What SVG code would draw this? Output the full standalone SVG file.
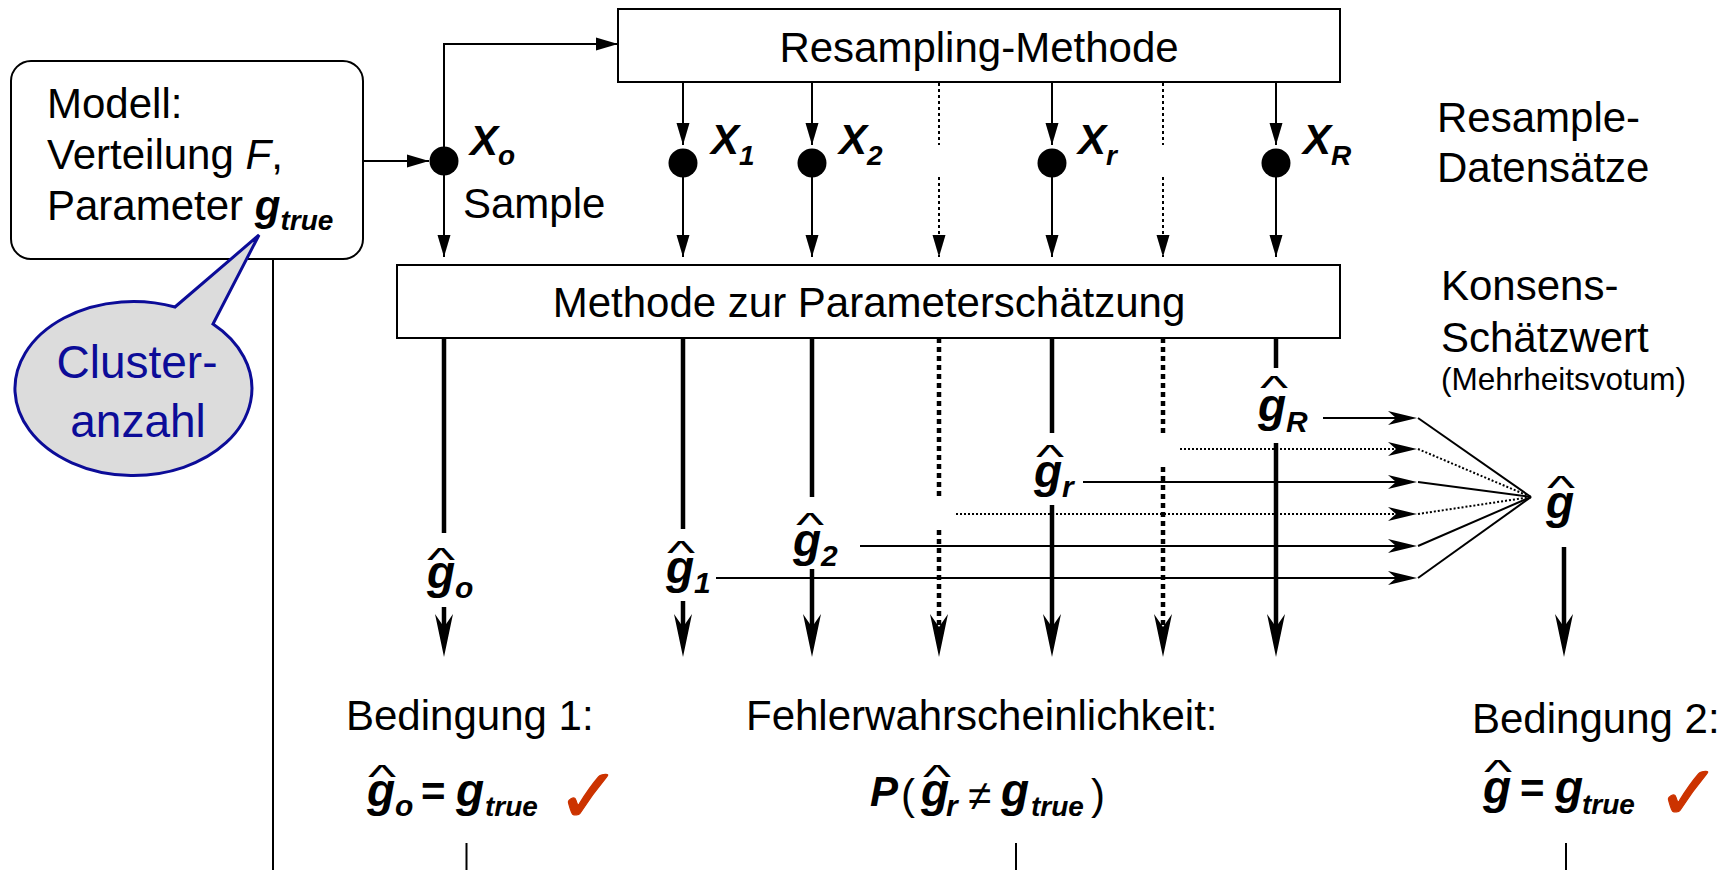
<svg xmlns="http://www.w3.org/2000/svg" width="1735" height="870" viewBox="0 0 1735 870">
<style>
.t{font-family:"Liberation Sans",Arial,sans-serif;font-size:42px;fill:#000}
.bi{font-weight:bold;font-style:italic}
.sub{font-size:28px}
.g{font-size:46px}
.s2{font-size:30px}
.sm{font-size:31.5px}
.hat{font-family:"Liberation Sans",Arial,sans-serif;font-size:40px;fill:#000}
.blue{fill:#0c0c98;font-size:46px}
.ln{stroke:#000;stroke-width:2;fill:none}
.thick{stroke-width:4.5}
.d1{stroke-dasharray:3 3}
.d2{stroke-dasharray:5 4}
.d3{stroke-dasharray:2 2}
.box{fill:#fff;stroke:#000;stroke-width:2}
.chk{font-family:"DejaVu Sans",sans-serif;font-size:76px;fill:#cc3300;stroke:#cc3300;stroke-width:1.2}
</style>
<defs>
<marker id="tri" markerUnits="userSpaceOnUse" markerWidth="24" markerHeight="14" refX="22" refY="6.5" orient="auto" overflow="visible"><path d="M0,0 L22,6.5 L0,13 z" fill="#000"/></marker>
<marker id="stv" markerUnits="userSpaceOnUse" markerWidth="44" markerHeight="18" refX="13" refY="9" orient="auto" overflow="visible"><path d="M0,0 L43,9 L0,18 L13,9 z" fill="#000"/></marker>
<marker id="sth" markerUnits="userSpaceOnUse" markerWidth="30" markerHeight="14" refX="8" refY="7" orient="auto" overflow="visible"><path d="M0,0 L29,7 L0,14 L8,7 z" fill="#000"/></marker>
</defs>
<rect width="1735" height="870" fill="#fff"/>

<g id="connectors">
<line class="ln" x1="273" y1="259" x2="273" y2="870"/>
<line class="ln" x1="363" y1="161" x2="429" y2="161" marker-end="url(#tri)"/>
<path class="ln" d="M444,161 V44 H618" marker-end="url(#tri)"/>
<path class="ln" d="M444,175 V257" marker-end="url(#tri)"/>
<path class="ln" d="M683,82 V145" marker-end="url(#tri)"/>
<path class="ln" d="M683,177 V257" marker-end="url(#tri)"/>
<path class="ln" d="M812,82 V145" marker-end="url(#tri)"/>
<path class="ln" d="M812,177 V257" marker-end="url(#tri)"/>
<path class="ln" d="M1052,82 V145" marker-end="url(#tri)"/>
<path class="ln" d="M1052,177 V257" marker-end="url(#tri)"/>
<path class="ln" d="M1276,82 V145" marker-end="url(#tri)"/>
<path class="ln" d="M1276,177 V257" marker-end="url(#tri)"/>
<path class="ln d1" d="M939,83 V145"/>
<path class="ln d1" d="M939,177 V257" marker-end="url(#tri)"/>
<path class="ln d1" d="M1163,83 V145"/>
<path class="ln d1" d="M1163,177 V257" marker-end="url(#tri)"/>

<path class="ln thick" d="M444,338 V533"/>
<path class="ln thick" d="M444,607 V627" marker-end="url(#stv)"/>
<path class="ln thick" d="M683,338 V529"/>
<path class="ln thick" d="M683,601 V627" marker-end="url(#stv)"/>
<path class="ln thick" d="M812,338 V497"/>
<path class="ln thick" d="M812,569 V627" marker-end="url(#stv)"/>
<path class="ln thick d2" d="M939,338 V497"/>
<path class="ln thick d2" d="M939,530 V627" marker-end="url(#stv)"/>
<path class="ln thick" d="M1052,338 V433"/>
<path class="ln thick" d="M1052,505 V627" marker-end="url(#stv)"/>
<path class="ln thick d2" d="M1163,338 V433"/>
<path class="ln thick d2" d="M1163,467 V627" marker-end="url(#stv)"/>
<path class="ln thick" d="M1276,338 V368"/>
<path class="ln thick" d="M1276,443 V627" marker-end="url(#stv)"/>
<path class="ln thick" d="M1564,547 V627" marker-end="url(#stv)"/>

<path class="ln" d="M1323,418 H1396" marker-end="url(#sth)"/>
<path class="ln d3" d="M1180,449 H1396" marker-end="url(#sth)"/>
<path class="ln" d="M1083,482 H1396" marker-end="url(#sth)"/>
<path class="ln d3" d="M956,514 H1396" marker-end="url(#sth)"/>
<path class="ln" d="M860,546 H1396" marker-end="url(#sth)"/>
<path class="ln" d="M716,578 H1396" marker-end="url(#sth)"/>

<path class="ln" d="M1418,418 L1531,497"/>
<path class="ln d3" d="M1418,449 L1531,497"/>
<path class="ln" d="M1418,482 L1531,497"/>
<path class="ln d3" d="M1418,514 L1531,497"/>
<path class="ln" d="M1418,546 L1531,497"/>
<path class="ln" d="M1418,578 L1531,497"/>

<line class="ln" x1="466.5" y1="843" x2="466.5" y2="870"/>
<line class="ln" x1="1016" y1="843" x2="1016" y2="870"/>
<line class="ln" x1="1566" y1="843" x2="1566" y2="870"/>
</g>

<g id="model">
<rect class="box" x="11" y="61" width="352" height="198" rx="20" ry="20"/>
<text class="t" x="47" y="118">Modell:</text>
<text class="t" x="47" y="169">Verteilung <tspan font-style="italic">F</tspan>,</text>
<text class="t" x="47" y="220">Parameter <tspan class="bi">g</tspan><tspan class="bi sub" dy="10">true</tspan></text>
</g>

<g id="balloon">
<path d="M175,307 L259,235 L213,324 A118.5,87 0 1,1 175,307 Z" fill="#dcdcdc" stroke="#0c0c98" stroke-width="3" stroke-linejoin="miter"/>
<text class="t blue" x="137" y="378" text-anchor="middle">Cluster-</text>
<text class="t blue" x="138" y="437" text-anchor="middle">anzahl</text>
</g>

<g id="resampling">
<rect class="box" x="618" y="9" width="722" height="73"/>
<text class="t" x="979" y="62" text-anchor="middle">Resampling-Methode</text>
</g>

<g id="methode">
<rect class="box" x="397" y="265" width="943" height="73"/>
<text class="t" x="869" y="317" text-anchor="middle">Methode zur Parameterschätzung</text>
</g>

<g id="samples">
<circle cx="444" cy="161" r="14.5"/>
<circle cx="683" cy="163" r="14.5"/>
<circle cx="812" cy="163" r="14.5"/>
<circle cx="1052" cy="163" r="14.5"/>
<circle cx="1276" cy="163" r="14.5"/>
<text class="t bi" x="470" y="155">X<tspan class="sub" dy="10">o</tspan></text>
<text class="t" x="463" y="218">Sample</text>
<text class="t bi" x="711" y="154">X<tspan class="sub" dy="11">1</tspan></text>
<text class="t bi" x="839" y="154">X<tspan class="sub" dy="11">2</tspan></text>
<text class="t bi" x="1078" y="154">X<tspan class="sub" dy="11">r</tspan></text>
<text class="t bi" x="1303" y="154">X<tspan class="sub" dy="11">R</tspan></text>
</g>

<g id="side-labels">
<text class="t" x="1437" y="132">Resample-</text>
<text class="t" x="1437" y="182">Datensätze</text>
<text class="t" x="1441" y="300">Konsens-</text>
<text class="t" x="1441" y="352">Schätzwert</text>
<text class="t sm" x="1441" y="390">(Mehrheitsvotum)</text>
</g>

<g id="estimates">
<text class="hat" text-anchor="middle" transform="translate(441,571) scale(1.5,0.85)">^</text>
<text class="t bi g" x="427" y="588">g<tspan class="s2" dy="10">o</tspan></text>
<text class="hat" text-anchor="middle" transform="translate(681,564) scale(1.5,0.85)">^</text>
<text class="t bi g" x="666" y="583">g<tspan class="s2" dy="10">1</tspan></text>
<text class="hat" text-anchor="middle" transform="translate(810,536) scale(1.5,0.85)">^</text>
<text class="t bi g" x="793" y="556">g<tspan class="s2" dy="10">2</tspan></text>
<text class="hat" text-anchor="middle" transform="translate(1050,468) scale(1.5,0.85)">^</text>
<text class="t bi g" x="1034" y="487">g<tspan class="s2" dy="10">r</tspan></text>
<text class="hat" text-anchor="middle" transform="translate(1274,399) scale(1.5,0.85)">^</text>
<text class="t bi g" x="1258" y="421">g<tspan class="s2" dy="11">R</tspan></text>
<text class="hat" text-anchor="middle" transform="translate(1561,499) scale(1.5,0.85)">^</text>
<text class="t bi g" x="1546" y="518">g</text>
</g>

<g id="bedingung1">
<text class="t" x="346" y="730">Bedingung 1:</text>
<text class="hat" text-anchor="middle" transform="translate(382,788) scale(1.5,0.85)">^</text>
<text class="t bi g" x="367" y="806">g</text>
<text class="t bi s2" x="395" y="816">o</text>
<text class="t" x="421" y="806" font-weight="bold" font-size="44">=</text>
<text class="t bi g" x="456" y="806">g</text>
<text class="t bi sub" x="485" y="816">true</text>
<text class="chk" x="557" y="822">✓</text>
</g>

<g id="fehler">
<text class="t" x="746" y="730">Fehlerwahrscheinlichkeit:</text>
<text class="t bi" x="870" y="806">P</text>
<text class="t" x="901" y="809" font-size="46">(</text>
<text class="hat" text-anchor="middle" transform="translate(937,788) scale(1.5,0.85)">^</text>
<text class="t bi g" x="921" y="806">g</text>
<text class="t bi s2" x="946" y="816">r</text>
<text class="t" x="968" y="810" font-size="30">≠</text>
<text class="t bi g" x="1001" y="806">g</text>
<text class="t bi sub" x="1031" y="816">true</text>
<text class="t" x="1091" y="809" font-size="46">)</text>
</g>

<g id="bedingung2">
<text class="t" x="1472" y="733">Bedingung 2:</text>
<text class="hat" text-anchor="middle" transform="translate(1498,783) scale(1.5,0.85)">^</text>
<text class="t bi g" x="1483" y="803">g</text>
<text class="t" x="1520" y="803" font-weight="bold" font-size="46">=</text>
<text class="t bi g" x="1555" y="803">g</text>
<text class="t bi sub" x="1582" y="814">true</text>
<text class="chk" x="1657" y="819">✓</text>
</g>
</svg>
